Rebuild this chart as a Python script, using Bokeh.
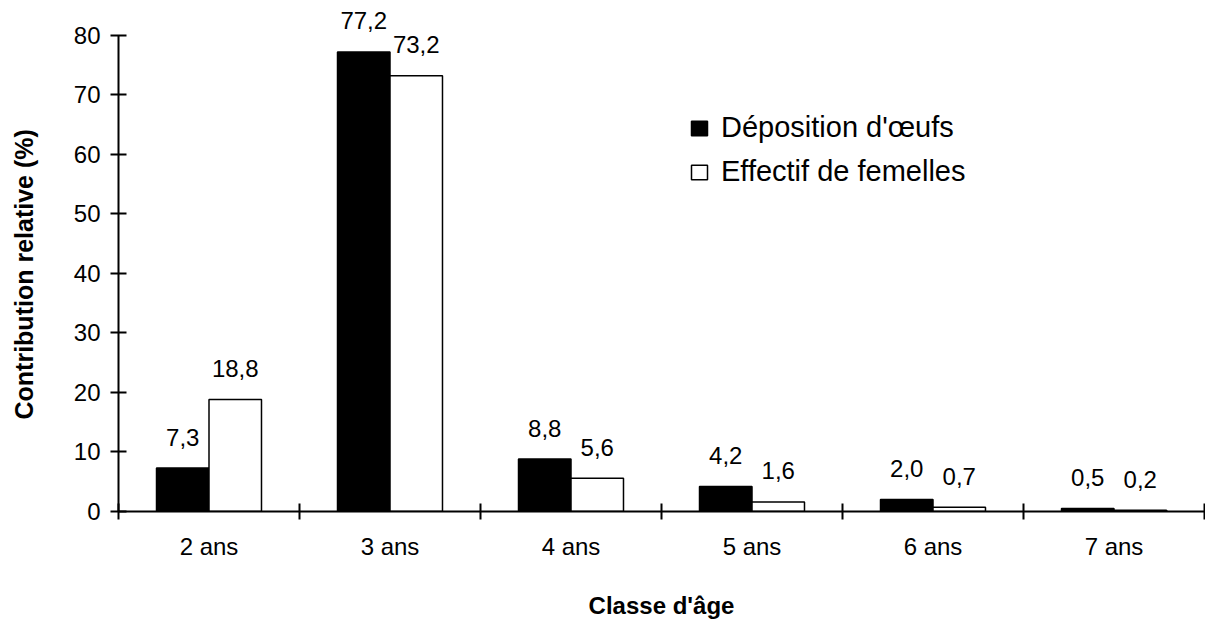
from bokeh.plotting import figure
from bokeh.models import FixedTicker, Range1d, Legend, LegendItem, ColumnDataSource, Title
from bokeh.core.properties import value
from bokeh.embed import file_html
from bokeh.resources import INLINE

# Age classes and the two series (relative contribution, %)
classes = ["2 ans", "3 ans", "4 ans", "5 ans", "6 ans", "7 ans"]
deposition = [7.3, 77.2, 8.8, 4.2, 2.0, 0.5]
effectif = [18.8, 73.2, 5.6, 1.6, 0.7, 0.2]
y_ticks = [0, 10, 20, 30, 40, 50, 60, 70, 80]

FONT = "Liberation Sans"
BAR_W = 0.29


def fr(v):
    return f"{v:.1f}".replace(".", ",")


centers = [i + 0.5 for i in range(len(classes))]
bounds = [float(i) for i in range(len(classes) + 1)]

src_dep = ColumnDataSource(dict(
    x=[c - BAR_W / 2 for c in centers], top=deposition,
    label=[fr(v) for v in deposition]))
src_eff = ColumnDataSource(dict(
    x=[c + BAR_W / 2 for c in centers], top=effectif,
    label=[fr(v) for v in effectif]))

# y range leaves headroom above 80 for the value labels; the axis stops at 80
p = figure(width=1205, height=631, output_backend="svg", toolbar_location=None,
           x_range=Range1d(0, len(classes)), y_range=Range1d(0, 85),
           min_border_left=118, min_border_right=1, min_border_top=5,
           min_border_bottom=120)
p.outline_line_color = None
p.xgrid.visible = False
p.ygrid.visible = False
p.background_fill_color = "white"
p.border_fill_color = "white"

r_dep = p.vbar(x="x", top="top", width=BAR_W, bottom=0, source=src_dep,
               fill_color="black", line_color="black", line_width=1.5)
r_eff = p.vbar(x="x", top="top", width=BAR_W, bottom=0, source=src_eff,
               fill_color="white", line_color="black", line_width=1.5)

for src in (src_dep, src_eff):
    p.text(x="x", y="top", text="label", source=src, text_align="center",
           text_baseline="alphabetic", y_offset=-31,
           text_font=value(FONT), text_font_size="24px", text_color="black")

# x axis: labels at class centres, tick marks at class boundaries
xa = p.xaxis[0]
xa.ticker = FixedTicker(ticks=centers, minor_ticks=bounds)
xa.major_label_overrides = {c: lab for c, lab in zip(centers, classes)}
xa.major_tick_line_color = None
xa.minor_tick_in = 8
xa.minor_tick_out = 8
xa.minor_tick_line_width = 2
xa.minor_tick_line_color = "black"
xa.axis_line_width = 2
xa.major_label_standoff = 13
xa.major_label_text_font = FONT
xa.major_label_text_font_size = "24px"
xa.major_label_text_color = "black"
xa.axis_label = "Classe d'âge"
xa.axis_label_text_font = FONT
xa.axis_label_text_font_style = "bold"
xa.axis_label_text_font_size = "24px"
xa.axis_label_text_color = "black"
xa.axis_label_standoff = 29

ya = p.yaxis[0]
ya.ticker = FixedTicker(ticks=y_ticks)
ya.bounds = (0, 80)
ya.major_tick_in = 8
ya.major_tick_out = 8
ya.major_tick_line_width = 2
ya.minor_tick_line_color = None
ya.axis_line_width = 2
ya.major_label_standoff = 10
ya.major_label_text_font = FONT
ya.major_label_text_font_size = "24px"
ya.major_label_text_color = "black"
# blank axis label only reserves a gap between tick labels and the side title
ya.axis_label = " "
ya.axis_label_text_font_size = "14px"
ya.axis_label_standoff = 14

# y title set as a side title so it can sit centred on the 0-80 span
p.add_layout(Title(text="Contribution relative (%)", align="left", offset=92,
                   standoff=0, text_font=FONT, text_font_style="bold",
                   text_font_size="25px", text_color="black"), "left")

legend = Legend(items=[LegendItem(label="Déposition d'œufs", renderers=[r_dep]),
                       LegendItem(label="Effectif de femelles", renderers=[r_eff])],
                location=(571, 323), orientation="vertical",
                border_line_color=None, background_fill_alpha=0,
                padding=0, margin=0, spacing=11,
                glyph_width=20, glyph_height=18, label_standoff=12,
                label_text_font=FONT, label_text_font_size="29px",
                label_text_color="black")
p.add_layout(legend)

open("out.html", "w").write(file_html(p, INLINE))
